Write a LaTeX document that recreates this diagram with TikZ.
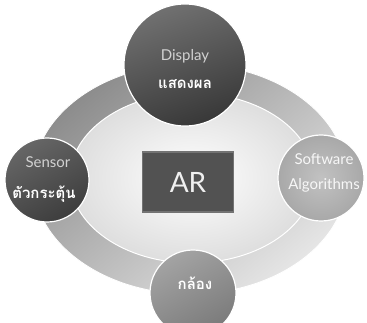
\documentclass[tikz,border=0pt]{standalone}
\usepackage{fontspec}
\setmainfont{Lato}
\newfontfamily\thaifont[Script=Thai]{Loma}
\begin{document}
\begin{tikzpicture}[x=1pt,y=-1pt,
  disc/.style={circle, inner sep=0pt, minimum size=#1, draw=white, line width=1.2pt},
  latin/.style={font=\fontsize{15}{17}\selectfont, text=#1},
  thai/.style={font=\thaifont\bfseries\fontsize{15}{17}\selectfont, text=white},
]
  \useasboundingbox (0,0) rectangle (367,323);
  \fill[white] (0,0) rectangle (367,323);

  % ring band
  \shade[even odd rule, top color=black!45, bottom color=black!10, shading angle=40]
    (190,179) ellipse [x radius=157, y radius=115]
    (192,178) ellipse [x radius=122, y radius=85];
  \draw[white, line width=0.8pt] (190,179) ellipse [x radius=157, y radius=115];
  % inner area of the ring
  \shade[inner color=white, outer color=black!13]
    (192,178) ellipse [x radius=122, y radius=85];
  \draw[white, line width=1pt] (192,178) ellipse [x radius=122, y radius=85];

  % centre box
  \node[draw=black!55, line width=1.5pt, fill=black!68, minimum width=91pt,
        minimum height=60pt, inner sep=0pt, text=black!6,
        font=\fontsize{28}{30}\selectfont] (ar) at (188,182) {AR};

  % surrounding discs
  \node[disc=122pt, top color=black!56, bottom color=black!78, shading angle=20]
    (display) at (185,65) {};
  \node[disc=84pt, top color=black!60, bottom color=black!76, shading angle=30]
    (sensor) at (47,180) {};
  \node[disc=86pt, inner color=black!24, outer color=black!34]
    (software) at (321,178) {};
  \node[disc=86pt, top color=black!36, bottom color=black!52, shading angle=30]
    (camera) at (193,293) {};

  % labels
  \node[latin=black!18] (displayA) at (185,56) {Display};
  \node[thai] (displayB) at (185,84) {แสดงผล};
  \node[latin=black!18] (sensorA) at (48,162) {Sensor};
  \node[thai] (sensorB) at (44,194) {ตัวกระตุ้น};
  \node[latin=black!3] (softwareA) at (324,159) {Software};
  \node[latin=black!3] (softwareB) at (324,185) {Algorithms};
  \node[thai] (cameraA) at (195,283) {กล้อง};
\end{tikzpicture}
\end{document}
